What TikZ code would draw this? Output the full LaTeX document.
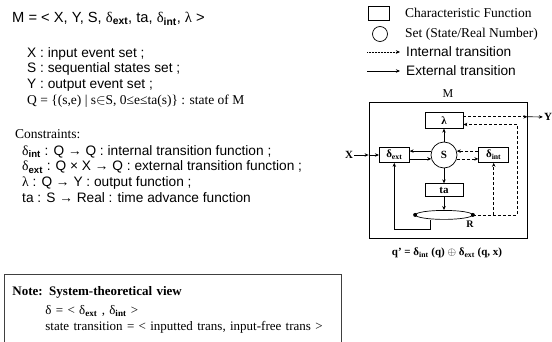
\documentclass[tikz,border=0pt]{standalone}
\usepackage{fontspec}
\setmainfont{Liberation Serif}
\setsansfont{Liberation Sans}
\usepackage{tikz}
\usetikzlibrary{arrows.meta,positioning,shapes.geometric}
\newcommand{\dlt}[1]{{\rmfamily δ}\textsubscript{\textbf{#1}}}
\newcommand{\arial}{\sffamily\fontsize{13.7}{15.8}\selectfont}
\newcommand{\tnr}{\rmfamily\fontsize{13.5}{15.8}\selectfont}

\begin{document}
\begin{tikzpicture}[
  x=1pt,y=-1pt,
  font=\arial,
  fnbox/.style={draw,line width=0.7pt,minimum width=38pt,minimum height=16pt,inner sep=0pt,font=\rmfamily\bfseries\fontsize{11}{12}\selectfont},
  setnode/.style={draw,circle,line width=0.7pt,minimum size=26pt,inner sep=0pt,font=\rmfamily\bfseries\fontsize{11}{12}\selectfont},
  extarr/.style={-{Stealth[length=4pt,width=3.5pt]},line width=0.7pt},
  intarr/.style={extarr,dash pattern=on 3pt off 2pt},
  txt/.style={anchor=north west,inner sep=0pt},
  lgd/.style={anchor=west,inner xsep=6pt,inner ysep=0pt},
  every node/.style={align=left},
]
\useasboundingbox (0,0) rectangle (552,342);

\node[txt,font=\sffamily\fontsize{14.7}{16}\selectfont] (title) at (12,12)
  {M = < X, Y, S, \dlt{ext}, ta, \dlt{int}, {\rmfamily λ} >};
\node[txt] (spec) at (27,47) {%
  X : input event set ;\\
  S : sequential states set ;\\
  Y : output event set ;\\
  {\tnr Q = \{(s,e) | s$\in$S, 0≤e≤ta(s)\} : state of M}};
\node[txt,font=\tnr] (cons) at (15,129) {Constraints:};
\node[txt] (funcs) at (22,145) {%
  \dlt{int} : Q → Q : internal transition function ;\\
  \dlt{ext} : Q × X → Q : external transition function ;\\
  {\rmfamily λ} : Q → Y : output function ;\\
  ta : S → Real : time advance function};

\node[draw,line width=0.7pt,minimum width=21pt,minimum height=14pt,inner sep=0pt] (lfn) at (378.5,13) {};
\node[lgd,font=\tnr] (lfntxt) at (399,13) {Characteristic Function};
\node[draw,circle,line width=0.7pt,minimum size=15pt,inner sep=0pt] (lset) at (380,34) {};
\node[lgd,font=\tnr] (lsettxt) at (399,34) {Set (State/Real Number)};
\coordinate (lintfrom) at (367,52);
\node[lgd] (linttxt) at (400,52) {Internal transition};
\coordinate (lextfrom) at (367,71);
\node[lgd] (lexttxt) at (400,71) {External transition};
\draw[-{Stealth[length=4pt,width=3.5pt]},densely dotted,line width=0.5pt] (lintfrom) -- (linttxt.west);
\draw[extarr] (lextfrom) -- (lexttxt.west);

\node[draw,line width=0.8pt,minimum width=158pt,minimum height=136pt] (M) at (448,170) {};
\node[above=4pt of M,inner sep=0pt,font=\rmfamily\fontsize{12}{13}\selectfont] (Mname) {M};
\node[setnode] (S) at (444,155) {S};
\node[fnbox,above=13pt of S] (lam) {λ};
\node[fnbox,minimum width=30pt,minimum height=15pt,left=21pt of S] (dext) {\dlt{ext}};
\node[fnbox,minimum width=30pt,minimum height=15pt,right=21pt of S] (dint) {\dlt{int}};
\node[fnbox,minimum height=13pt,below=15pt of S] (ta) {ta};
\node[draw,ellipse,line width=0.7pt,minimum width=57pt,minimum height=9pt,inner sep=0pt,below=13pt of ta] (R) {};
\fill (R.west) circle (2pt) (R.east) circle (2pt);
\node[inner sep=0pt,font=\rmfamily\bfseries\fontsize{10}{11}\selectfont] (Rname) at (470,224) {R};
\node[inner sep=1pt,font=\rmfamily\bfseries\fontsize{11}{12}\selectfont] (X) at (349,155) {X};
\node[inner sep=1pt,font=\rmfamily\bfseries\fontsize{11}{12}\selectfont] (Y) at (548,117) {Y};
\coordinate (back) at (517,124.5);

\draw[extarr] (X) -- (M.west |- X);
\draw[extarr] (M.west |- X) -- (dext.west);
\draw[extarr] (S.163) -- (S.163 -| dext.east);
\draw[extarr] (S.197 -| dext.east) -- (S.197);
\draw[intarr] (S.17 -| dint.west) -- (S.17);
\draw[intarr] (S.-17) -- (S.-17 -| dint.west);
\draw[extarr] (S) -- (lam);
\draw[extarr] (S) -- (ta);
\draw[extarr] (ta) -- (R);
\draw[extarr] ([xshift=-14pt]R.south) -- ++(0,10) -| (dext);
\draw[intarr] (R.east) -| (back) -- (back -| lam.east);
\draw[intarr] (R.east -| dint) -- (dint);
\draw[intarr] ([yshift=3.5pt]lam.east) -- ([yshift=3.5pt]lam.east -| M.east);
\draw[extarr] ([yshift=3.5pt]lam.east -| M.east) -- (Y);

\node[font=\rmfamily\bfseries\fontsize{11}{12}\selectfont] (eq) at (447,253)
  {q’ = \dlt{int} (q) $\oplus$ \dlt{ext} (q, x)};

\node[draw=black!75,line width=0.8pt,anchor=north west,inner xsep=8pt,inner ysep=12pt,text width=321pt,
  font=\rmfamily\fontsize{13}{16.5}\selectfont] (note) at (4,274) {%
  \textbf{Note: System-theoretical view}\\[2.5pt]
  \hspace*{33pt}δ = < \dlt{ext} , \dlt{int} >\\
  \hspace*{33pt}state transition = < inputted trans, input-free trans >};
\end{tikzpicture}
\end{document}
